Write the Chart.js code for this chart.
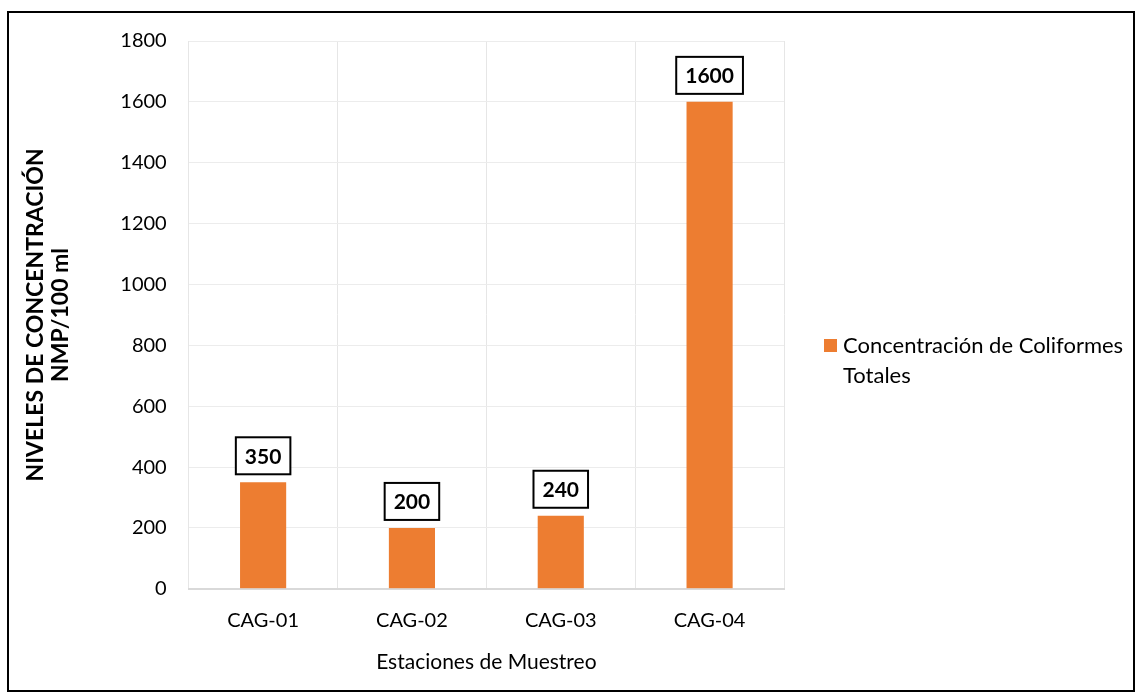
<!DOCTYPE html>
<html>
<head>
<meta charset="utf-8">
<script src="https://cdn.jsdelivr.net/npm/chart.js@4"></script>
<style>
  body { margin: 0; background: #fff; }
  #frame {
    position: absolute; left: 7px; top: 11px;
    width: 1124px; height: 677px;
    border: 2px solid #000;
  }
</style>
</head>
<body>
<div id="frame"><canvas id="barChart" width="1124" height="677"></canvas></div>
<script>
// datos
const estaciones = ['CAG-01', 'CAG-02', 'CAG-03', 'CAG-04']
const coliformes = [350, 200, 240, 1600]
const serieNombre = ['Concentración de Coliformes', 'Totales']
const ejeY = ['NIVELES DE CONCENTRACIÓN', 'NMP/100 ml']
const ejeX = 'Estaciones de Muestreo'

const naranja = 'rgb(237,125,49)'
const fuente = 'Lato, "Liberation Sans", sans-serif'

// etiquetas con recuadro encima de cada barra
const etiquetas = {
  id: 'etiquetas',
  afterDatasetsDraw(chart) {
    const ctx = chart.ctx
    const meta = chart.getDatasetMeta(0)
    ctx.save()
    ctx.font = 'bold 21px ' + fuente
    ctx.textAlign = 'center'
    ctx.textBaseline = 'middle'
    meta.data.forEach((bar, i) => {
      const txt = String(coliformes[i])
      const w = ctx.measureText(txt).width + 18
      const h = 37
      const x = bar.x - w / 2
      const y = bar.y - 8 - h
      ctx.fillStyle = '#fff'
      ctx.fillRect(x, y, w, h)
      ctx.lineWidth = 2
      ctx.strokeStyle = '#000'
      ctx.strokeRect(x, y, w, h)
      ctx.fillStyle = '#000'
      ctx.fillText(txt, bar.x, y + h / 2 + 1)
    })
    ctx.restore()
  }
}

// leyenda a la derecha, en dos lineas
const leyenda = {
  id: 'leyenda',
  afterDraw(chart) {
    const ctx = chart.ctx
    const x = 815
    const y = 326
    ctx.save()
    ctx.fillStyle = naranja
    ctx.fillRect(x, y, 13, 13)
    ctx.fillStyle = '#000'
    ctx.font = '22px ' + fuente
    ctx.textBaseline = 'middle'
    ctx.fillText(serieNombre[0], x + 19, y + 7)
    ctx.fillText(serieNombre[1], x + 19, y + 7 + 30)
    ctx.restore()
  }
}

const ctx = document.getElementById('barChart').getContext('2d')

const myChart = new Chart(ctx, {
  type: 'bar',
  data: {
    labels: estaciones,
    datasets: [{
      label: serieNombre.join(' '),
      data: coliformes,
      backgroundColor: naranja,
      categoryPercentage: 1,
      barPercentage: 0.31
    }]
  },
  options: {
    responsive: false,
    animation: false,
    layout: { padding: { left: 15, right: 349, top: 28, bottom: 15 } },
    plugins: {
      legend: { display: false },
      tooltip: { enabled: false }
    },
    scales: {
      x: {
        grid: { color: '#e6e6e6', drawTicks: false },
        border: { color: '#d9d9d9', width: 2 },
        ticks: { color: '#000', font: { family: fuente, size: 20 }, padding: 20 },
        title: {
          display: true, text: ejeX, color: '#000',
          font: { family: fuente, size: 21 }, padding: { top: -3, bottom: 0 }
        }
      },
      y: {
        min: 0, max: 1800,
        ticks: {
          stepSize: 200, color: '#000', font: { family: fuente, size: 20 }, padding: 6,
          callback: v => String(v)
        },
        grid: { color: '#ececec', drawTicks: true, tickLength: 16, tickColor: 'rgba(0,0,0,0)' },
        border: { display: false },
        title: {
          display: true, text: ejeY, color: '#000',
          font: { family: fuente, size: 23, weight: 'bold', lineHeight: 1.05 },
          padding: { top: 0, bottom: 42 }
        }
      }
    }
  },
  plugins: [etiquetas, leyenda]
})
</script>
</body>
</html>
